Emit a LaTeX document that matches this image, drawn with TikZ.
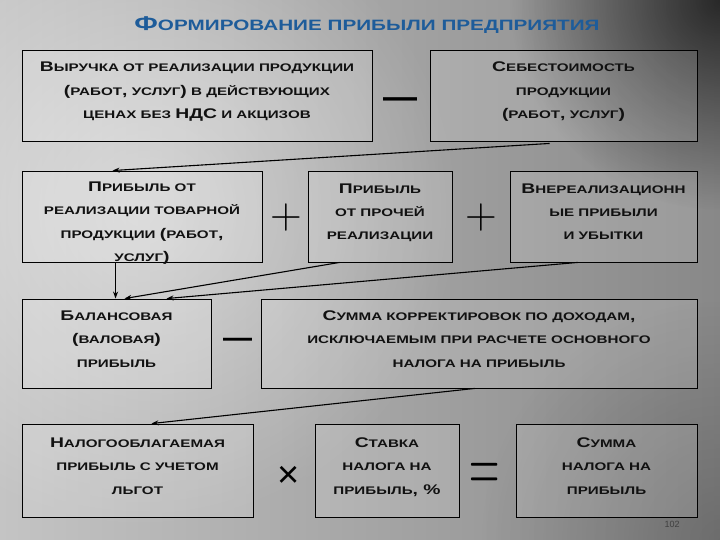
\documentclass[tikz,border=0pt]{standalone}
\usepackage{fontspec}
\newfontfamily\boxfont{Liberation Sans Bold}[FakeStretch=1.38]
\newfontfamily\titlefont{Liberation Sans Bold}[FakeStretch=1.38]
\newfontfamily\opfont{Liberation Sans Bold}
\newfontfamily\numfont{Liberation Sans}
\usetikzlibrary{arrows.meta,calc,fadings}
\tikzfading[name=softfade, inner color=transparent!0, outer color=transparent!100]
\definecolor{titleblue}{HTML}{1E5C9A}
\definecolor{txt}{HTML}{111111}
\definecolor{bgl}{HTML}{C4C4C4}
\definecolor{bgr}{HTML}{888888}
\newcommand\Bgl[1]{{\fontsize{14}{23.5}\selectfont #1}}
\newcommand\Bgt[1]{{\fontsize{20}{22}\selectfont #1}}
\newcommand\hst{\rule{0pt}{10pt}}
\newcommand\dst{\rule[-10pt]{0pt}{10pt}}
\begin{document}
\begin{tikzpicture}[x=1pt,y=-1pt,
  box/.style={draw=black, line width=0.9pt, fill=white, fill opacity=0.14, text opacity=1,
    text=txt, inner sep=0pt, align=center, font=\boxfont\fontsize{11}{23.5}\selectfont},
  boxtext/.style={text=txt, inner sep=0pt, align=center, font=\boxfont\fontsize{11}{23.5}\selectfont},
  arr/.style={draw=black, line width=1.1pt, -{Stealth[length=7pt,width=5pt]}},
  op/.style={text=black, inner sep=0pt}]
\useasboundingbox (0,0) rectangle (720,540);
% background
\shade[left color=bgl, right color=bgr] (0,0) rectangle (720,540);
\fill[white, opacity=0.45, path fading=softfade] (140,210) circle[radius=320pt];
\fill[black, opacity=0.7, path fading=softfade] (720,0) circle[radius=210pt];
\fill[black, opacity=0.2, path fading=softfade] (720,540) circle[radius=240pt];
% title
\node[font=\titlefont\fontsize{15}{16}\selectfont, text=titleblue, inner sep=0pt] (title) at (367,25)
  {\Bgt{Ф}ОРМИРОВАНИЕ ПРИБЫЛИ ПРЕДПРИЯТИЯ};
% row 1
\node[box, minimum width=350pt, minimum height=91pt] (a) at (197,95.5)
  {\hst\Bgl{В}ЫРУЧКА ОТ РЕАЛИЗАЦИИ ПРОДУКЦИИ\\\Bgl{(}РАБОТ\Bgl{,} УСЛУГ\Bgl{)} В ДЕЙСТВУЮЩИХ\\ЦЕНАХ БЕЗ \Bgl{НДС} И АКЦИЗОВ\dst};
\node[box, minimum width=267pt, minimum height=91pt] (b) at (563.5,95.5)
  {\hst\Bgl{С}ЕБЕСТОИМОСТЬ\\ПРОДУКЦИИ\\\Bgl{(}РАБОТ\Bgl{,} УСЛУГ\Bgl{)}\dst};
\node[op, font=\opfont\fontsize{34}{34}\selectfont, anchor=base] (m1) at (400,109) {—};
% row 2
\node[box, minimum width=240pt, minimum height=91pt] (c) at (142,216.5) {};
\node[boxtext, anchor=north] (ct) at (142,181)
  {\hst\Bgl{П}РИБЫЛЬ ОТ\\РЕАЛИЗАЦИИ ТОВАРНОЙ\\ПРОДУКЦИИ \Bgl{(}РАБОТ\Bgl{,}\\УСЛУГ\Bgl{)}};
\node[box, minimum width=144pt, minimum height=91pt] (d) at (380,216.5)
  {\hst\Bgl{П}РИБЫЛЬ\\ОТ ПРОЧЕЙ\\РЕАЛИЗАЦИИ\dst};
\node[box, minimum width=187pt, minimum height=91pt] (e) at (603.5,216.5)
  {\hst\Bgl{В}НЕРЕАЛИЗАЦИОНН\\ЫЕ ПРИБЫЛИ\\И УБЫТКИ\dst};
\node[op, font=\fontsize{44}{44}\selectfont] (p1) at (286,217.5) {+};
\node[op, font=\fontsize{44}{44}\selectfont] (p2) at (481,217.5) {+};
% row 3
\node[box, minimum width=189pt, minimum height=89pt] (f) at (116.5,343.5)
  {\hst\Bgl{Б}АЛАНСОВАЯ\\\Bgl{(}ВАЛОВАЯ\Bgl{)}\\ПРИБЫЛЬ\dst};
\node[box, minimum width=436pt, minimum height=89pt] (g) at (479,343.5)
  {\hst\Bgl{С}УММА КОРРЕКТИРОВОК ПО ДОХОДАМ\Bgl{,}\\ИСКЛЮЧАЕМЫМ ПРИ РАСЧЕТЕ ОСНОВНОГО\\НАЛОГА НА ПРИБЫЛЬ\dst};
\node[op, font=\opfont\fontsize{29}{29}\selectfont, anchor=base] (m2) at (237.5,347) {—};
% row 4
\node[box, minimum width=231pt, minimum height=93pt] (h) at (137.5,470.5)
  {\hst\Bgl{Н}АЛОГООБЛАГАЕМАЯ\\ПРИБЫЛЬ С УЧЕТОМ\\ЛЬГОТ\dst};
\node[box, minimum width=144pt, minimum height=93pt] (i) at (387,470.5)
  {\hst\Bgl{С}ТАВКА\\НАЛОГА НА\\ПРИБЫЛЬ\Bgl{, \%}\dst};
\node[box, minimum width=181pt, minimum height=93pt] (j) at (606.5,470.5)
  {\hst\Bgl{С}УММА\\НАЛОГА НА\\ПРИБЫЛЬ\dst};
\node[op, font=\numfont\fontsize{38}{38}\selectfont] (x1) at (289,477) {×};
\node[op] (eq) at (485,477.5) {\scalebox{1}[1.95]{\fontsize{42}{42}\selectfont =}};
\node[font=\numfont\fontsize{9}{9}\selectfont, text=black!75, inner sep=0pt] (pg) at (672,524) {102};
% connectors
\coordinate (s1) at ($(b.south west)+(120,2)$);
\draw[arr] (s1) -- ($(c.north west)+(91,0)$);
\draw[arr] ($(c.south west)+(94,0)$) -- ($(f.north west)+(94,0)$);
\draw[arr] ($(d.south west)+(32,0)$) -- ($(f.north west)+(103,0)$);
\draw[arr] ($(e.south west)+(68,0)$) -- ($(f.north west)+(145,0)$);
\draw[arr] ($(g.south west)+(214,0)$) -- ($(h.north west)+(130,0)$);
\end{tikzpicture}
\end{document}
